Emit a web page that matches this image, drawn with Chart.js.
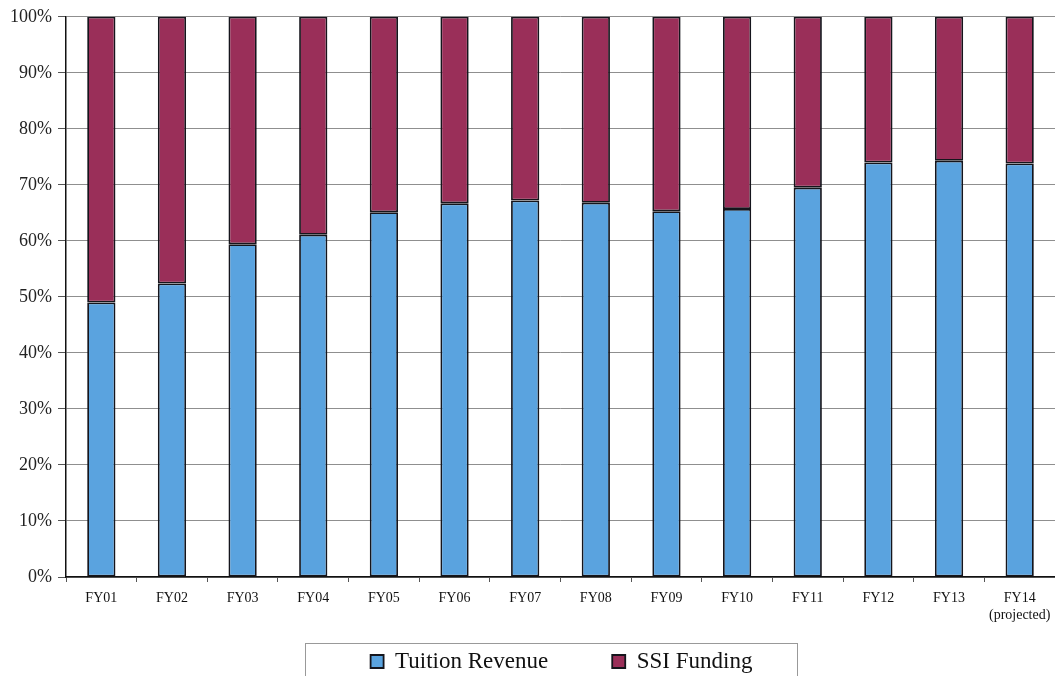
<!DOCTYPE html>
<html lang="en">
<head>
    <meta charset="UTF-8" />
    <title>Tuition Revenue vs SSI Funding</title>
    <style>
        body {
            margin: 0;
            background: #ffffff;
        }

        .wrap {
            width: 1055px;
            height: 676px;
            position: relative;
        }
    </style>
</head>
<body>
    <div class="wrap">
        <canvas id="shareChart"></canvas>
    </div>

    <script src="https://cdn.jsdelivr.net/npm/chart.js"></script>
    <script>
        // Data sets (share of total, %)
        const years = [
            "FY01", "FY02", "FY03", "FY04", "FY05", "FY06", "FY07",
            "FY08", "FY09", "FY10", "FY11", "FY12", "FY13", ["FY14", "(projected)"]
        ];
        const tuitionShare = [49, 52.4, 59.4, 61.1, 65.1, 66.7, 67.2, 66.8, 65.3, 65.7, 69.5, 74.0, 74.3, 73.8];
        const ssiShare = [51, 47.6, 40.6, 38.9, 34.9, 33.3, 32.8, 33.2, 34.7, 34.3, 30.5, 26.0, 25.7, 26.2];

        const serif = "'Liberation Serif', 'Times New Roman', serif";

        // Nudge the legend, let x labels run below the axis box, frame the legend
        const legendFrame = {
            id: 'legendFrame',
            afterLayout(chart) {
                chart.scales.x.bottom = chart.height;
                chart.legend.left += 34;
                chart.legend.right += 34;
                chart.legend.top += 7;
                chart.legend.bottom += 7;
            },
            afterDraw(chart) {
                const ctx = chart.ctx;
                ctx.save();
                ctx.strokeStyle = '#999';
                ctx.lineWidth = 1;
                ctx.strokeRect(305.5, 643.5, 492, 40);
                ctx.restore();
            }
        };

        const ctx = document.getElementById('shareChart').getContext('2d');
        new Chart(ctx, {
            type: 'bar',
            data: {
                labels: years,
                datasets: [{
                    label: 'Tuition Revenue',
                    data: tuitionShare,
                    backgroundColor: '#5aa3df',
                    borderColor: '#15151c',
                    borderWidth: 1.8,
                    borderSkipped: false,
                    barPercentage: 0.4,
                    categoryPercentage: 1
                }, {
                    label: 'SSI Funding',
                    data: ssiShare,
                    backgroundColor: '#9a2f59',
                    borderColor: '#15151c',
                    borderWidth: 1.8,
                    borderSkipped: false,
                    barPercentage: 0.4,
                    categoryPercentage: 1
                }]
            },
            options: {
                responsive: true,
                maintainAspectRatio: false,
                animation: false,
                layout: {
                    padding: { top: 16, right: 0, left: 0, bottom: 0 }
                },
                scales: {
                    x: {
                        stacked: true,
                        grid: {
                            drawOnChartArea: false,
                            tickLength: 5,
                            tickColor: '#555'
                        },
                        border: { color: '#111', width: 1.5 },
                        ticks: {
                            color: '#111',
                            font: { family: serif, size: 14 },
                            padding: 8,
                            maxRotation: 0,
                            autoSkip: false
                        },
                        afterFit(scale) {
                            scale.height = 2;
                            scale.paddingRight = 0;
                        }
                    },
                    y: {
                        stacked: true,
                        min: 0,
                        max: 100,
                        grid: {
                            color: '#8f8f8f',
                            tickLength: 8,
                            tickColor: '#555'
                        },
                        border: { color: '#111', width: 1.5 },
                        ticks: {
                            stepSize: 10,
                            color: '#222',
                            padding: 6,
                            font: { family: serif, size: 18 },
                            callback: v => v + '%'
                        },
                        afterFit(scale) { scale.width = 66; }
                    }
                },
                plugins: {
                    legend: {
                        position: 'bottom',
                        labels: {
                            color: '#111',
                            boxWidth: 13,
                            boxHeight: 13,
                            padding: 64,
                            font: { family: serif, size: 23 }
                        }
                    },
                    tooltip: { enabled: false }
                }
            },
            plugins: [legendFrame]
        });
    </script>
</body>
</html>
